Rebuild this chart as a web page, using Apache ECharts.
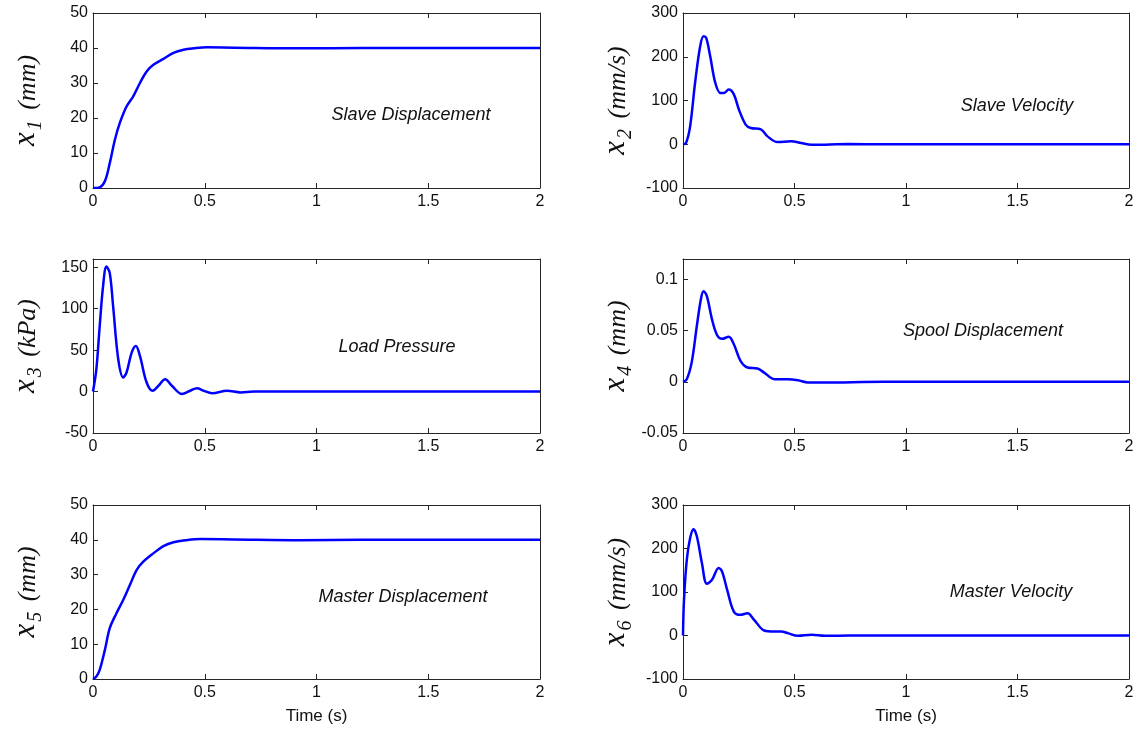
<!DOCTYPE html>
<html>
<head>
<meta charset="utf-8">
<script src="https://cdn.jsdelivr.net/npm/echarts@6/dist/echarts.min.js"></script>
<style>html,body{margin:0;padding:0;background:#fff;}#c{width:1141px;height:730px;}</style>
</head>
<body>
<div id="c"></div>
<script>
// ---- data ----
const xTicks = [0, 0.5, 1, 1.5, 2];

const t1 = [0, 0.03, 0.053, 0.075, 0.098, 0.12, 0.15, 0.18, 0.21, 0.24, 0.27, 0.315, 0.36, 0.405, 0.45, 0.51, 0.63, 0.93, 1.2, 1.5, 2];
const x1 = [0, 0.2, 1.9, 7.1, 13.8, 18.6, 23.3, 26.2, 30, 33.3, 35.2, 36.9, 38.6, 39.5, 39.9, 40.2, 40.1, 39.9, 40, 40, 40];

const t2 = [0, 0.0136, 0.032, 0.054, 0.077, 0.092, 0.104, 0.122, 0.145, 0.168, 0.183, 0.205, 0.228, 0.251, 0.281, 0.304, 0.349, 0.379, 0.424, 0.485, 0.53, 0.576, 0.636, 0.742, 0.9, 1.2, 1.5, 2];
const x2 = [0, 3, 41, 140, 224, 247, 243, 201, 140, 117, 117, 125, 114, 79, 45, 37, 34, 18, 5, 7, 3, -1, -1, 0.5, 0, 0, 0, 0];

const t3 = [0, 0.015, 0.03, 0.045, 0.06, 0.075, 0.09, 0.113, 0.135, 0.15, 0.173, 0.192, 0.21, 0.24, 0.267, 0.293, 0.323, 0.353, 0.398, 0.435, 0.465, 0.495, 0.533, 0.6, 0.66, 0.72, 0.9, 1.2, 1.5, 2];
const x3 = [0, 27, 79, 127, 151, 143, 103, 39, 17, 23, 47, 55, 43, 11, 1, 7, 15, 7, -3, 1, 4, 1, -2, 1, -1, 0, 0, 0, 0, 0];

const t4 = [0, 0.017, 0.039, 0.062, 0.08, 0.092, 0.107, 0.13, 0.153, 0.175, 0.205, 0.228, 0.258, 0.289, 0.334, 0.364, 0.41, 0.47, 0.515, 0.56, 0.62, 0.9, 1.2, 1.5, 2];
const x4 = [0, 0.0026, 0.019, 0.0545, 0.0805, 0.0886, 0.0838, 0.061, 0.0455, 0.042, 0.044, 0.0367, 0.0205, 0.014, 0.013, 0.009, 0.0026, 0.0026, 0.0016, -0.0006, -0.0006, 0, 0, 0, 0];

const t5 = [0, 0.015, 0.03, 0.053, 0.075, 0.105, 0.135, 0.165, 0.195, 0.225, 0.27, 0.315, 0.36, 0.42, 0.48, 0.63, 0.93, 1.2, 1.5, 2];
const x5 = [0, 0.7, 2.6, 8.3, 14.6, 18.9, 22.7, 27, 31.3, 33.7, 36.1, 38.2, 39.3, 39.9, 40.2, 40.1, 39.9, 40, 40, 40];

const t6 = [0, 0.0045, 0.017, 0.032, 0.047, 0.062, 0.085, 0.107, 0.13, 0.16, 0.175, 0.198, 0.228, 0.258, 0.289, 0.319, 0.364, 0.41, 0.44, 0.47, 0.515, 0.576, 0.636, 0.75, 0.9, 1.2, 1.5, 2];
const x6 = [0, 82, 174, 224, 244, 228, 166, 119, 128, 155, 147, 105, 55, 47.5, 51, 36, 11.5, 9, 9, 5.4, -0.8, 1.5, -0.8, 0, 0, 0, 0, 0];

const yRanges = [[0, 50, 10], [-100, 300, 100], [-50, 160, 50], [-0.05, 0.12, 0.05], [0, 50, 10], [-100, 300, 100]];
const yTicks = [[0, 10, 20, 30, 40, 50], [-100, 0, 100, 200, 300], [-50, 0, 50, 100, 150], [-0.05, 0, 0.05, 0.1], [0, 10, 20, 30, 40, 50], [-100, 0, 100, 200, 300]];
const ySub = ['1', '2', '3', '4', '5', '6'];
const yUnit = ['(mm)', '(mm/s)', '(kPa)', '(mm)', '(mm)', '(mm/s)'];
const titles = ['Slave Displacement', 'Slave Velocity', 'Load Pressure', 'Spool Displacement', 'Master Displacement', 'Master Velocity'];
const times = [t1, t2, t3, t4, t5, t6];
const values = [x1, x2, x3, x4, x5, x6];

// ---- layout ----
const grids = [
  {left: 93, top: 13, width: 447, height: 175},
  {left: 683, top: 13, width: 446, height: 175},
  {left: 93, top: 259, width: 447, height: 174},
  {left: 683, top: 259, width: 446, height: 174},
  {left: 93, top: 505, width: 447, height: 174},
  {left: 683, top: 505, width: 446, height: 174}
];
const titlePos = [[411, 115], [1017, 106], [397, 347], [983, 331], [403, 597], [1011, 592]];

const axisColor = '#262626';
const serif = 'Liberation Serif';
const sans = 'Liberation Sans';

const xAxes = [], yAxes = [], series = [], graphics = [];
grids.forEach((g, i) => {
  const bottomRow = i >= 4;
  const common = {
    gridIndex: i, type: 'value', min: 0, max: 2, interval: 0.5,
    axisLine: {show: true, onZero: false, lineStyle: {color: axisColor, width: 1}},
    axisTick: {show: true, inside: true, length: 5, lineStyle: {color: axisColor}},
    splitLine: {show: false}
  };
  xAxes.push(Object.assign({}, common, {
    position: 'bottom',
    axisLabel: {show: true, fontFamily: sans, fontSize: 16, color: '#111', margin: 6},
    name: bottomRow ? 'Time (s)' : '',
    nameLocation: 'middle', nameGap: 29,
    nameTextStyle: {fontFamily: sans, fontSize: 17, color: '#111'}
  }));
  xAxes.push(Object.assign({}, common, {position: 'top', axisLabel: {show: false}}));

  const r = yRanges[i];
  const ycommon = {
    gridIndex: i, type: 'value', min: r[0], max: r[1], interval: r[2],
    axisLine: {show: true, onZero: false, lineStyle: {color: axisColor, width: 1}},
    axisTick: {show: true, inside: true, length: 5, lineStyle: {color: axisColor}, customValues: yTicks[i]},
    splitLine: {show: false}
  };
  yAxes.push(Object.assign({}, ycommon, {
    position: 'left',
    axisLabel: {show: true, fontFamily: sans, fontSize: 16, color: '#111', margin: 5, customValues: yTicks[i]},
    name: '{v|x}{s|' + ySub[i] + '}{u| ' + yUnit[i] + '}',
    nameLocation: 'middle', nameGap: 47, nameRotate: 90,
    nameTextStyle: {
      rich: {
        v: {fontFamily: serif, fontStyle: 'italic', fontSize: 31, color: '#111', lineHeight: 34, verticalAlign: 'bottom', padding: [0, 0, 5, 0]},
        s: {fontFamily: serif, fontStyle: 'italic', fontSize: 20, color: '#111', lineHeight: 34, verticalAlign: 'bottom', padding: [0, 4, 0, 2]},
        u: {fontFamily: serif, fontStyle: 'italic', fontSize: 26, color: '#111', lineHeight: 34, verticalAlign: 'bottom', padding: [0, 0, 5, 0]}
      }
    }
  }));
  yAxes.push(Object.assign({}, ycommon, {position: 'right', axisLabel: {show: false}, axisTick: {show: false}}));

  series.push({
    type: 'line', xAxisIndex: 2 * i, yAxisIndex: 2 * i,
    data: times[i].map((t, k) => [t, values[i][k]]),
    showSymbol: false, symbol: 'none', smooth: 0.35,
    lineStyle: {color: '#0000ff', width: 2.5},
    clip: true, animation: false
  });

  graphics.push({
    type: 'text', x: titlePos[i][0], y: titlePos[i][1],
    style: {text: titles[i], fontFamily: sans, fontStyle: 'italic', fontSize: 18, fill: '#111', align: 'center', verticalAlign: 'middle'}
  });
});

const chart = echarts.init(document.getElementById('c'), null, {renderer: 'canvas'});
chart.setOption({
  animation: false,
  backgroundColor: '#fff',
  grid: grids,
  xAxis: xAxes,
  yAxis: yAxes,
  series: series,
  graphic: graphics
});
</script>
</body>
</html>
